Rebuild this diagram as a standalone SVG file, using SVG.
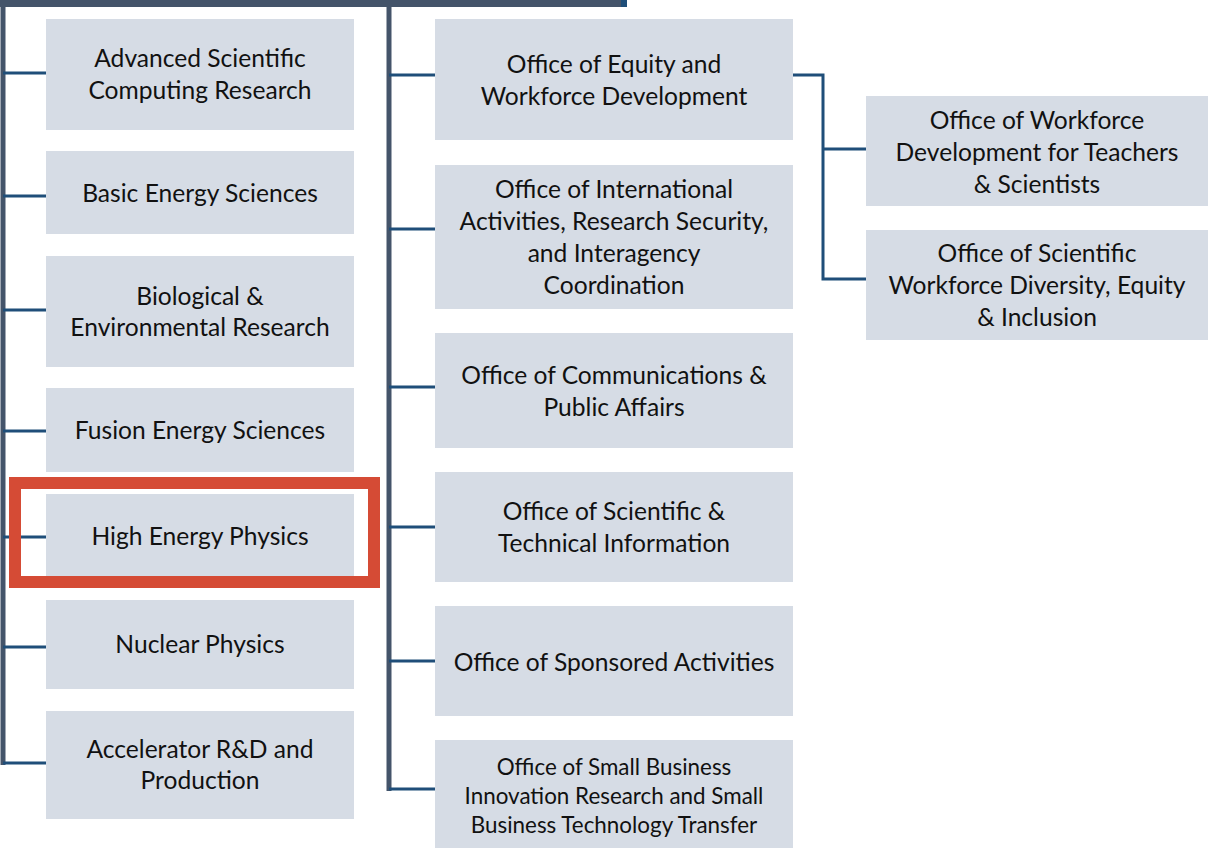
<svg xmlns="http://www.w3.org/2000/svg" width="1209" height="848" viewBox="0 0 1209 848">
  <style>
    .box { fill: #D6DCE5; }
    .lbl { font-family: Lato, "Open Sans", "Liberation Sans", sans-serif; font-size: 24.6px; fill: #111; text-anchor: middle; }
    .sm { font-size: 22.4px; }
    .trunk { stroke: #44546A; stroke-width: 5; fill: none; }
    .link { stroke: #1F4E79; stroke-width: 3; fill: none; }
    .hl { fill: none; stroke: #D54B35; stroke-width: 12; }
  </style>

  <rect width="1209" height="848" fill="#fff"/>

  <!-- connectors -->
  <g id="connectors">
    <!-- trunks -->
    <path class="trunk" d="M3,0 V765 M389,0 V791"/>
    <rect x="0" y="0" width="627" height="7" fill="#44546A"/>
    <rect x="621" y="0" width="6" height="7" fill="#1F4E79"/>
    <!-- left column branches -->
    <path class="link" d="M3,73 H46 M3,196 H46 M3,310 H46 M3,431 H46 M3,537 H46 M3,647 H46 M3,763 H46"/>
    <!-- middle column branches -->
    <path class="link" d="M389,75 H435 M389,229 H435 M389,387 H435 M389,527 H435 M389,661 H435 M389,789 H435"/>
    <!-- sub-offices -->
    <path class="link" d="M793,75 H823 V279 H866 M823,149 H866"/>
  </g>

  <!-- left column -->
  <g id="ascr">
    <rect class="box" x="46" y="19" width="308" height="111"/>
    <text class="lbl" x="200" y="67">Advanced Scientific</text>
    <text class="lbl" x="200" y="99">Computing Research</text>
  </g>
  <g id="bes">
    <rect class="box" x="46" y="151" width="308" height="83"/>
    <text class="lbl" x="200" y="202">Basic Energy Sciences</text>
  </g>
  <g id="ber">
    <rect class="box" x="46" y="256" width="308" height="111"/>
    <text class="lbl" x="200" y="305">Biological &amp;</text>
    <text class="lbl" x="200" y="336">Environmental Research</text>
  </g>
  <g id="fes">
    <rect class="box" x="46" y="388" width="308" height="84"/>
    <text class="lbl" x="200" y="439">Fusion Energy Sciences</text>
  </g>
  <g id="hep">
    <rect class="box" x="46" y="494" width="308" height="83"/>
    <text class="lbl" x="200" y="545">High Energy Physics</text>
    <rect class="hl" x="15" y="483" width="359" height="99"/>
  </g>
  <g id="np">
    <rect class="box" x="46" y="600" width="308" height="89"/>
    <text class="lbl" x="200" y="653">Nuclear Physics</text>
  </g>
  <g id="ard">
    <rect class="box" x="46" y="711" width="308" height="108"/>
    <text class="lbl" x="200" y="758">Accelerator R&amp;D and</text>
    <text class="lbl" x="200" y="789">Production</text>
  </g>

  <!-- middle column -->
  <g id="equity">
    <rect class="box" x="435" y="19" width="358" height="121"/>
    <text class="lbl" x="614" y="73">Office of Equity and</text>
    <text class="lbl" x="614" y="105">Workforce Development</text>
  </g>
  <g id="international">
    <rect class="box" x="435" y="165" width="358" height="144"/>
    <text class="lbl" x="614" y="198">Office of International</text>
    <text class="lbl" x="614" y="230">Activities, Research Security,</text>
    <text class="lbl" x="614" y="262">and Interagency</text>
    <text class="lbl" x="614" y="294">Coordination</text>
  </g>
  <g id="communications">
    <rect class="box" x="435" y="333" width="358" height="115"/>
    <text class="lbl" x="614" y="384">Office of Communications &amp;</text>
    <text class="lbl" x="614" y="416">Public Affairs</text>
  </g>
  <g id="osti">
    <rect class="box" x="435" y="472" width="358" height="110"/>
    <text class="lbl" x="614" y="520">Office of Scientific &amp;</text>
    <text class="lbl" x="614" y="552">Technical Information</text>
  </g>
  <g id="sponsored">
    <rect class="box" x="435" y="606" width="358" height="110"/>
    <text class="lbl" x="614" y="671">Office of Sponsored Activities</text>
  </g>
  <g id="sbir">
    <rect class="box" x="435" y="740" width="358" height="108"/>
    <text class="lbl sm" x="614" y="775">Office of Small Business</text>
    <text class="lbl sm" x="614" y="804">Innovation Research and Small</text>
    <text class="lbl sm" x="614" y="833">Business Technology Transfer</text>
  </g>

  <!-- right column -->
  <g id="wdts">
    <rect class="box" x="866" y="96" width="342" height="110"/>
    <text class="lbl" x="1037" y="129">Office of Workforce</text>
    <text class="lbl" x="1037" y="161">Development for Teachers</text>
    <text class="lbl" x="1037" y="193">&amp; Scientists</text>
  </g>
  <g id="swdei">
    <rect class="box" x="866" y="230" width="342" height="110"/>
    <text class="lbl" x="1037" y="262">Office of Scientific</text>
    <text class="lbl" x="1037" y="294">Workforce Diversity, Equity</text>
    <text class="lbl" x="1037" y="326">&amp; Inclusion</text>
  </g>
</svg>
